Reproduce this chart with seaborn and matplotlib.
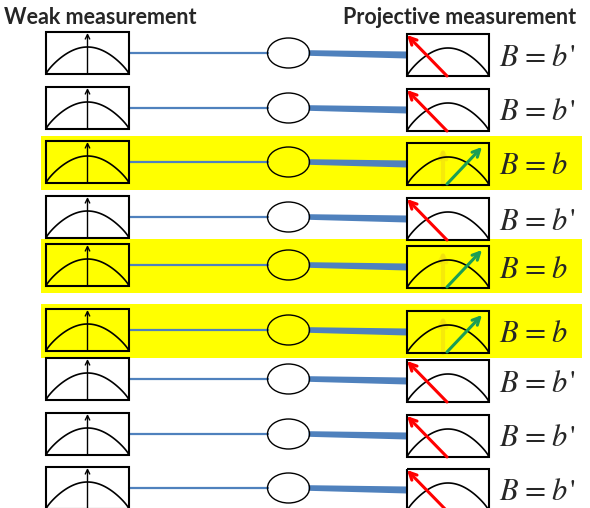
import numpy as np
import pandas as pd
import matplotlib
matplotlib.use("Agg")
import matplotlib.pyplot as plt
import seaborn as sns
from matplotlib.patches import Rectangle, Ellipse, FancyArrowPatch, Polygon

# outcome of the projective measurement for each run, top to bottom
row_outcome = ["b'", "b'", "b", "b'", "b", "b", "b'", "b'", "b'"]
header_left = "Weak measurement"
header_right = "Projective measurement"

# layout (pixel coords of the 590x508 picture)
row_y = [53, 108, 162, 217, 265, 330, 379, 434, 488]
LX0, LX1, LH = 46, 129, 21           # weak box
EX, EW, EH = 288.5, 42, 30           # ellipse
RX0, RX1, RT, RB = 407, 489, 19, 23  # projective box
BAND_X0, BAND_X1 = 41, 582
BLUE = "#4F81BD"
YELLOW = "#FFFF00"

sns.set_theme(style="white")
plt.rcParams["mathtext.fontset"] = "stix"

fig = plt.figure(figsize=(5.9, 5.08), dpi=100)
ax = fig.add_axes([0, 0, 1, 1])
ax.set_xlim(0, 590)
ax.set_ylim(508, 0)


def bell(x0, x1, bottom, top, n=60):
    u = np.linspace(-1, 1, n)
    f = np.cos(np.pi * u / 2).clip(0) ** 0.8
    return x0 + (u + 1) / 2 * (x1 - x0), bottom - f * (bottom - top)


# bell curves inside every box, drawn in one seaborn call
curves = []
for i, yc in enumerate(row_y):
    x, y = bell(LX0, LX1, yc + LH, yc - LH + 15)
    curves.append(pd.DataFrame({"x": x, "y": y, "unit": f"L{i}"}))
    x, y = bell(RX0, RX1, yc + RB, yc - RT + 14)
    curves.append(pd.DataFrame({"x": x, "y": y, "unit": f"R{i}"}))
curves = pd.concat(curves, ignore_index=True)
sns.lineplot(data=curves, x="x", y="y", units="unit", estimator=None,
             color="black", lw=1.2, ax=ax, legend=False, zorder=3)

labels = []
for yc, out in zip(row_y, row_outcome):
    hit = out == "b"
    if hit:
        ax.add_patch(Rectangle((BAND_X0, yc - 26), BAND_X1 - BAND_X0, 54,
                               facecolor=YELLOW, edgecolor="none", zorder=0))
    # weak box
    ax.add_patch(Rectangle((LX0, yc - LH), LX1 - LX0, 2 * LH, facecolor="none",
                           edgecolor="black", lw=1.5, zorder=4))
    cx = (LX0 + LX1) / 2
    ax.add_patch(FancyArrowPatch((cx, yc + LH), (cx, yc - LH + 1), arrowstyle="->",
                                 mutation_scale=8, lw=1.0, color="black",
                                 shrinkA=0, shrinkB=0, zorder=4))
    # thin line to ellipse
    ax.plot([LX1, EX - EW / 2], [yc, yc], color=BLUE, lw=1.6, zorder=2)
    ax.add_patch(Ellipse((EX, yc), EW, EH, facecolor="none", edgecolor="black",
                         lw=1.0, zorder=4))
    # thick line to projective box
    xe = EX + EW / 2 - 1
    ax.add_patch(Polygon([(xe, yc - 2.8), (RX0, yc - 1.5), (RX0, yc + 5.5), (xe, yc + 2.8)],
                         closed=True, facecolor=BLUE, edgecolor="none", zorder=2))
    # projective box
    ax.add_patch(Rectangle((RX0, yc - RT), RX1 - RX0, RT + RB, facecolor="none",
                           edgecolor="black", lw=1.5, zorder=4))
    if hit:
        ax.add_patch(FancyArrowPatch((443, yc + RB), (443, yc - RT + 5), arrowstyle="->",
                                     mutation_scale=12, lw=3, color="#F0DC10",
                                     shrinkA=0, shrinkB=0, zorder=2, alpha=0.6))
        ax.add_patch(FancyArrowPatch((447, yc + 22), (482, yc - 15), arrowstyle="->",
                                     mutation_scale=13, lw=2.2, color="#1A9E55",
                                     shrinkA=0, shrinkB=0, zorder=5))
    else:
        ax.add_patch(FancyArrowPatch((447, yc + RB), (407, yc - RT + 1), arrowstyle="->",
                                     mutation_scale=13, lw=2.2, color="#FF0000",
                                     shrinkA=0, shrinkB=0, zorder=5))
    t = ax.text(499, yc + 4, r"$B\hspace{0.1}=\hspace{0.1}b$", fontsize=22,
                ha="left", va="center", zorder=6)
    labels.append((t, yc, out))

# primes as separate upright apostrophes just after the b
fig.canvas.draw()
inv = ax.transData.inverted()
for t, yc, out in labels:
    if out != "b'":
        continue
    bb = t.get_window_extent()
    xr, _ = inv.transform((bb.x1, bb.y1))
    ax.text(xr + 1, yc - 9, "'", fontsize=22, family="STIXGeneral",
            ha="left", va="top", zorder=6)

ax.text(4, 18, header_left, fontsize=15.5, fontweight="bold", family="Lato",
        ha="left", va="center")
ax.text(576, 18, header_right, fontsize=15.5, fontweight="bold", family="Lato",
        ha="right", va="center")

ax.axis("off")
fig.savefig("out.png", dpi=100)
